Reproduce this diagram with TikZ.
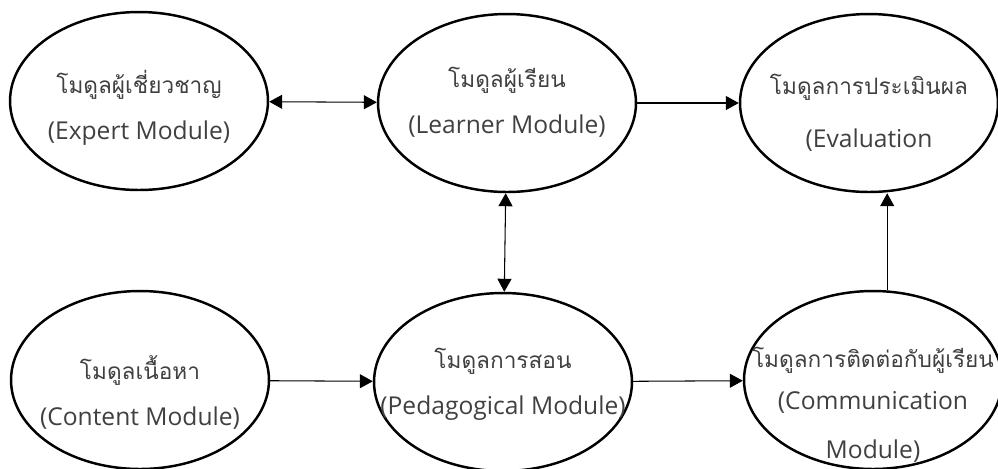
\documentclass[tikz,border=0pt]{standalone}
\usepackage{fontspec}
\setmainfont{Open Sans}
\newfontfamily\thaifont[Script=Thai,Scale=0.92]{Loma}
\usetikzlibrary{arrows.meta,shapes.geometric}
\definecolor{txtgray}{HTML}{404040}
\tikzset{%
    >={Triangle[length=2.6mm,width=2.8mm]},
    module/.style={draw, ellipse, line width=1.4pt, inner xsep=-0.9cm, inner ysep=0pt,
        minimum width=5.16cm, minimum height=3.56cm, align=center,
        text=txtgray, font=\fontsize{14}{26}\selectfont},
    link/.style={line width=0.6pt}
}
% #1 = how far the text sits below the middle of the ellipse
\newcommand\ModText[3][0pt]{\raisebox{-#1}[0pt][0pt]{%
    \begin{tabular}{@{}c@{}}{\thaifont #2}\\#3\end{tabular}}}

\begin{document}
\begin{tikzpicture}[x=0.02cm,y=-0.02cm]
      \useasboundingbox (0,0) rectangle (998,468);
      \clip (0,0) rectangle (998,468);

      \node[module] (expert) at (139,101) {\ModText[0.25cm]{โมดูลผู้เชี่ยวชาญ}{(Expert Module)}};
      \node[module] (learner) at (507,103) {\ModText[0.1cm]{โมดูลผู้เรียน}{(Learner Module)}};
      \node[module] (eval) at (869,103) {\ModText[0.3cm]{โมดูลการประเมินผล}{[4pt](Evaluation}};

      \node[module] (content) at (140,380) {\ModText[0.4cm]{โมดูลเนื้อหา}{(Content Module)}};
      \node[module] (teach) at (503,382) {\ModText[0.14cm]{โมดูลการสอน}{(Pedagogical Module)}};
      \node[module, font=\fontsize{14}{24}\selectfont] (comm) at (873,380)
            {\ModText[0.62cm]{โมดูลการติดต่อกับผู้เรียน}{(Communication\\[4pt]Module)}};

      \draw[link, <->] (expert) -- (learner);
      \draw[link, ->] (learner) -- (eval);
      \draw[link, <->] (learner) -- (teach);

      \draw[link, ->] (content) -- (teach);
      \draw[link, ->] (teach) -- (comm);
      \draw[link, ->] (comm.81) -- (comm.81 |- eval.south);
    \end{tikzpicture}
\end{document}
